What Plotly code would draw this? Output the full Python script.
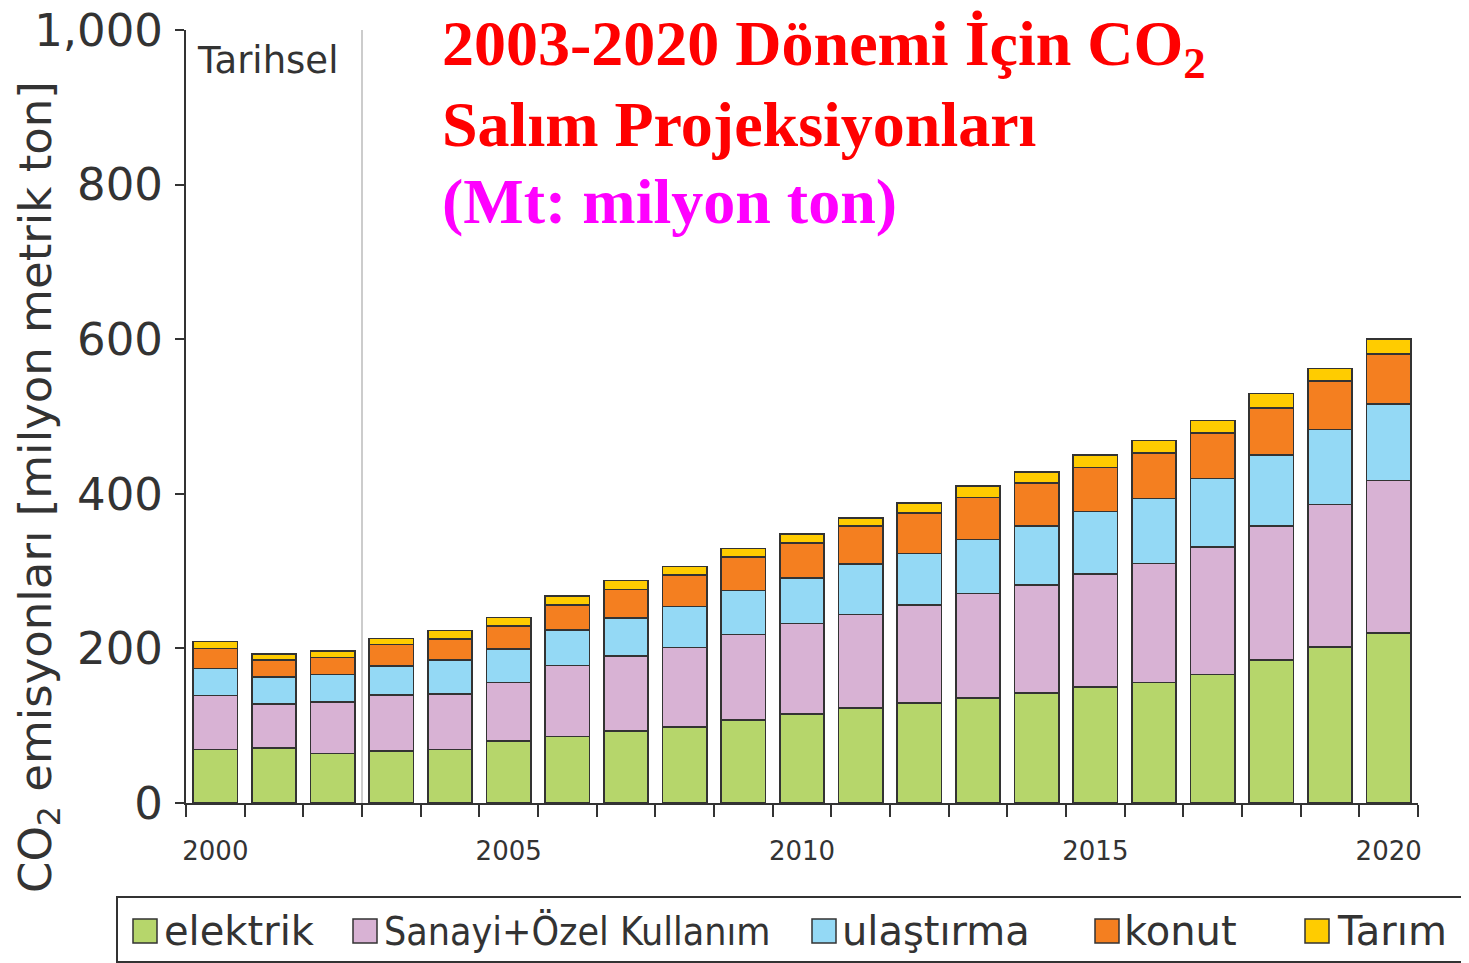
import plotly.graph_objects as go

years = [2000, 2001, 2002, 2003, 2004, 2005, 2006, 2007, 2008, 2009, 2010,
         2011, 2012, 2013, 2014, 2015, 2016, 2017, 2018, 2019, 2020]
elektrik = [69, 71, 64, 67, 69, 80, 86, 93, 98, 107, 115, 123, 129, 136, 142, 150, 156, 166, 185, 202, 220]
sanayi = [70, 57, 67, 73, 72, 76, 92, 97, 103, 111, 117, 121, 127, 135, 140, 146, 154, 165, 173, 184, 197]
ulastirma = [35, 35, 35, 37, 44, 43, 46, 49, 53, 57, 59, 65, 67, 70, 76, 81, 84, 89, 92, 97, 99]
konut = [26, 22, 22, 28, 27, 30, 32, 37, 41, 43, 45, 49, 52, 54, 56, 57, 59, 59, 61, 63, 65]
tarim = [9, 8, 9, 8, 11, 11, 12, 12, 11, 11, 12, 11, 13, 15, 14, 16, 16, 16, 19, 16, 19]

series_names = ["elektrik", "Sanayi+Özel Kullanım", "ulaştırma", "konut", "Tarım"]
series_values = [elektrik, sanayi, ulastirma, konut, tarim]
series_colors = ["#B6D66B", "#D8B2D4", "#94D9F5", "#F47F20", "#FFCC00"]

ytick_vals = [0, 200, 400, 600, 800, 1000]
ytick_text = ["0", "200", "400", "600", "800", "1,000"]
xtick_vals = [2000, 2005, 2010, 2015, 2020]
xtick_text = ["2000", "2005", "2010", "2015", "2020"]

# the page body adds an 8px offset; target positions below are in window pixels
OFF = 8
W, H = 1469 - OFF, 963 - OFF
PL, PR, PT, PB = 186, 1418, 30, 803          # plot area in window pixels
ML, MT = PL - OFF, PT - OFF
MR, MB = W - (PR - OFF), H - (PB - OFF)
PW, PH = PR - PL, PB - PT


def px(xp):
    return (xp - PL) / PW


def py(yp):
    return (PB - yp) / PH


fig = go.Figure()
for name, vals, col in zip(series_names, series_values, series_colors):
    fig.add_trace(go.Bar(
        x=years, y=vals, name=name, width=0.756,
        marker=dict(color=col, line=dict(color="#333333", width=1.6)),
        showlegend=False,
    ))

shapes = [
    dict(type="line", xref="x", yref="y", x0=2002.5, x1=2002.5, y0=0, y1=1000,
         line=dict(color="#CCCCCC", width=2), layer="below"),
    dict(type="rect", xref="paper", yref="paper", x0=px(117), x1=px(1480),
         y0=py(962), y1=py(897), line=dict(color="#333333", width=2),
         fillcolor="rgba(0,0,0,0)"),
]

annotations = [
    dict(text="Tarihsel", xref="paper", yref="paper", x=px(195), y=py(61),
         xanchor="left", yanchor="middle", showarrow=False,
         font=dict(family="DejaVu Sans", size=37, color="#333333")),
    dict(text="CO<sub>2</sub> emisyonları [milyon metrik ton]", xref="paper", yref="paper",
         x=px(38), y=py(487), xanchor="center", yanchor="middle", textangle=-90,
         showarrow=False, font=dict(family="DejaVu Sans", size=45, color="#333333")),
    dict(text="<b>2003-2020 Dönemi İçin CO<sub>2</sub></b>", xref="paper", yref="paper",
         x=px(440), y=py(48), xanchor="left", yanchor="middle", showarrow=False,
         font=dict(family="Liberation Serif", size=64, color="#FF0000")),
    dict(text="<b>Salım Projeksiyonları</b>", xref="paper", yref="paper",
         x=px(440), y=py(125), xanchor="left", yanchor="middle", showarrow=False,
         font=dict(family="Liberation Serif", size=64, color="#FF0000")),
    dict(text="<b>(Mt: milyon ton)</b>", xref="paper", yref="paper",
         x=px(440), y=py(202), xanchor="left", yanchor="middle", showarrow=False,
         font=dict(family="Liberation Serif", size=64, color="#FF00FF")),
]

# custom legend
leg_sq_left = [133, 353, 812, 1095, 1305]
leg_txt_left = [162, 382, 840, 1122, 1335]
for name, col, sx, tx in zip(series_names, series_colors, leg_sq_left, leg_txt_left):
    shapes.append(dict(type="rect", xref="paper", yref="paper", x0=px(sx), x1=px(sx + 24),
                       y0=py(943), y1=py(919), fillcolor=col,
                       line=dict(color="#333333", width=1.5)))
    cond = name.startswith("Sanayi")
    fam = "DejaVu Sans Condensed, DejaVu Sans" if cond else "DejaVu Sans"
    annotations.append(dict(text=name, xref="paper", yref="paper", x=px(tx), y=py(931),
                            xanchor="left", yanchor="middle", showarrow=False,
                            font=dict(family=fam, size=39 if cond else 40, color="#333333")))

fig.update_layout(
    width=W, height=H, barmode="stack",
    margin=dict(l=ML, r=MR, t=MT, b=MB, pad=0, autoexpand=False),
    plot_bgcolor="white", paper_bgcolor="white",
    font=dict(family="DejaVu Sans", color="#333333"),
    xaxis=dict(range=[1999.5, 2020.5], tickmode="array", tickvals=xtick_vals, ticktext=xtick_text,
               ticks="", showgrid=False, zeroline=False, showline=True, linecolor="#333333",
               linewidth=2, tickfont=dict(family="DejaVu Sans", size=26, color="#333333"),
               ticklabelstandoff=24, automargin=False,
               minor=dict(tick0=1999.5, dtick=1, ticks="outside", ticklen=12,
                          tickcolor="#333333", tickwidth=2, showgrid=False)),
    yaxis=dict(range=[0, 1000], tickmode="array", tickvals=ytick_vals, ticktext=ytick_text,
               ticks="outside", ticklen=9, tickwidth=2, tickcolor="#333333",
               showgrid=False, zeroline=False, showline=True, linecolor="#333333", linewidth=2,
               tickfont=dict(family="DejaVu Sans", size=45, color="#333333"),
               ticklabelstandoff=3, ticklabeloverflow="allow", automargin=False),
    shapes=shapes, annotations=annotations,
)

fig.write_html("out.html")
